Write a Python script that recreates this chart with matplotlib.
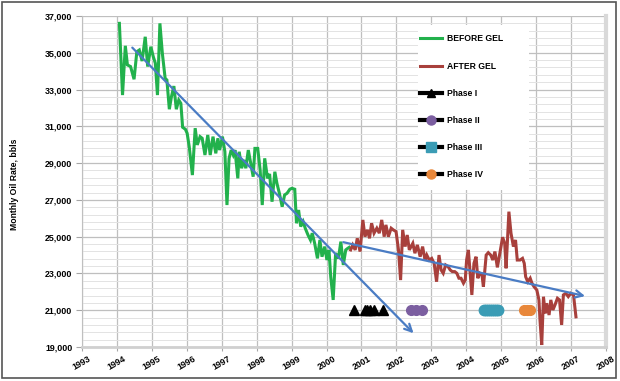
import matplotlib; matplotlib.use("Agg")
import matplotlib.pyplot as plt
from matplotlib.lines import Line2D
from matplotlib.patches import Rectangle
from matplotlib.ticker import FuncFormatter, FixedLocator

plt.rcParams["font.family"] = ["Liberation Sans", "DejaVu Sans"]

# ---- data (decimal year, bbls/month) ----
before_t = [1994.07, 1994.16, 1994.24, 1994.30, 1994.39, 1994.49, 1994.57, 1994.64, 1994.72, 1994.81,
            1994.88, 1994.97, 1995.04, 1995.10, 1995.16, 1995.23, 1995.30, 1995.38, 1995.43, 1995.50,
            1995.56, 1995.63, 1995.70, 1995.77, 1995.83, 1995.88, 1995.96, 1996.01, 1996.07, 1996.16,
            1996.24, 1996.30, 1996.38, 1996.44, 1996.52, 1996.60, 1996.67, 1996.75, 1996.83, 1996.89,
            1996.94, 1997.02, 1997.09, 1997.15, 1997.21, 1997.27, 1997.33, 1997.38, 1997.46, 1997.50,
            1997.57, 1997.63, 1997.69, 1997.76, 1997.83, 1997.90, 1997.95, 1998.03, 1998.10, 1998.16,
            1998.23, 1998.31, 1998.37, 1998.44, 1998.52, 1998.58, 1998.65, 1998.73, 1998.80, 1998.87,
            1998.95, 1999.01, 1999.09, 1999.14, 1999.20, 1999.26, 1999.33, 1999.39, 1999.47, 1999.54,
            1999.59, 1999.66, 1999.74, 1999.81, 1999.87, 1999.95, 2000.01, 2000.07, 2000.12, 2000.19,
            2000.26, 2000.34, 2000.41, 2000.48, 2000.55, 2000.61, 2000.65]
before_v = [36600, 32700, 35380, 34340, 34250, 33560, 35060, 35150, 34550, 35870,
            34250, 35330, 34790, 34430, 32700, 36600, 34970, 33610, 33520, 31930,
            32610, 33190, 31930, 32430, 32250, 30950, 30840, 30620, 29890, 28350,
            30900, 29990, 30440, 30350, 29440, 30530, 29440, 30440, 29530, 30350,
            29710, 30440, 29620, 26720, 29260, 29710, 29440, 29710, 28170, 29620,
            28720, 29170, 28720, 29710, 28990, 28260, 29800, 29800, 28620, 26720,
            29260, 28170, 28410, 26900, 28530, 27900, 27360, 26630, 27270, 27360,
            27580, 27630, 27580, 25730, 26450, 25550, 25820, 25460, 25090, 24820,
            25190, 24640, 23820, 24820, 23910, 24460, 23730, 24280, 22820, 21560,
            24100, 23820, 24730, 23460, 24280, 24370, 24420]

after_t = [2000.69, 2000.75, 2000.82, 2000.88, 2000.96, 2001.04, 2001.10, 2001.17, 2001.23, 2001.29,
           2001.36, 2001.44, 2001.51, 2001.58, 2001.65, 2001.70, 2001.77, 2001.85, 2001.91, 2001.99,
           2002.06, 2002.12, 2002.18, 2002.25, 2002.31, 2002.37, 2002.47, 2002.53, 2002.60, 2002.68,
           2002.75, 2002.82, 2002.87, 2002.94, 2003.01, 2003.08, 2003.15, 2003.22, 2003.28, 2003.34,
           2003.41, 2003.48, 2003.54, 2003.60, 2003.67, 2003.73, 2003.79, 2003.85, 2003.92, 2003.97,
           2004.01, 2004.06, 2004.16, 2004.22, 2004.28, 2004.33, 2004.39, 2004.45, 2004.49, 2004.57,
           2004.63, 2004.70, 2004.76, 2004.82, 2004.89, 2004.97, 2005.04, 2005.10, 2005.14, 2005.18,
           2005.22, 2005.28, 2005.35, 2005.41, 2005.46, 2005.54, 2005.61, 2005.66, 2005.70, 2005.76,
           2005.83, 2005.88, 2005.94, 2006.02, 2006.08, 2006.11, 2006.16, 2006.21, 2006.26, 2006.30,
           2006.37, 2006.42, 2006.48, 2006.54, 2006.61, 2006.67, 2006.73, 2006.78, 2006.85, 2006.92,
           2006.99, 2007.07, 2007.14]
after_v = [24280, 24550, 24280, 24910, 24190, 25910, 25000, 25370, 24910, 25730,
           25190, 25460, 25190, 25910, 25000, 25640, 25000, 25460, 25370, 25280,
           24280, 22640, 25370, 24460, 25090, 24280, 24640, 24100, 24550, 23910,
           24460, 23730, 24000, 23730, 23820, 23550, 22550, 24000, 23190, 23010,
           23460, 23370, 23190, 23100, 23100, 23010, 22740, 22740, 22470, 22640,
           23730, 24280, 21830, 23550, 23910, 22740, 23010, 22920, 22280, 24000,
           24130, 24000, 23730, 24190, 23330, 24190, 24970, 24640, 23280, 24820,
           26360, 25190, 24460, 24820, 23730, 23730, 23820, 23550, 22820, 22550,
           22740, 22470, 22280, 22100, 21560, 20470, 19110, 21730, 20830, 21380,
           20740, 21560, 21010, 21290, 21650, 21560, 20200, 21830, 21920, 21740,
           21920, 21830, 20640]

# trend arrows (start, end)
trend_before_t = [1994.44, 2002.49]
trend_before_v = [35280, 19750]
trend_after_t = [2000.48, 2007.40]
trend_after_v = [24700, 21770]

# gel treatment phases, plotted at 21,000
phase_level = 21000
phase1_t = [2000.80, 2001.09, 2001.17, 2001.25, 2001.35, 2001.63]
phase2_t = [2002.42, 2002.56, 2002.72]
phase3_t = [2004.50, 2004.56, 2004.62, 2004.68, 2004.74, 2004.80, 2004.86, 2004.92]
phase4_t = [2005.66, 2005.74, 2005.82]

years = list(range(1993, 2009))
y_major = list(range(19000, 37001, 2000))
y_minor = list(range(19000, 37001, 400))

GREEN = "#22B14C"; RED = "#A8403C"; BLUE = "#4A7CC4"
PURPLE = "#7B5EA0"; TEAL = "#3B9CB5"; ORANGE = "#E8873A"

fig = plt.figure(figsize=(6.2, 3.81), dpi=100)
ax = fig.add_axes([82/620, 34/381, 524/620, 331/381])

ax.plot(before_t, before_v, color=GREEN, lw=2.2, zorder=3, solid_joinstyle="miter")
ax.plot(after_t, after_v, color=RED, lw=2.2, zorder=3, solid_joinstyle="miter")

for tt, vv in [(trend_before_t, trend_before_v), (trend_after_t, trend_after_v)]:
    ax.annotate("", xy=(tt[1], vv[1]), xytext=(tt[0], vv[0]),
                arrowprops=dict(arrowstyle="->", color=BLUE, lw=1.6, mutation_scale=13,
                                shrinkA=0, shrinkB=0), zorder=4)

ax.plot(phase1_t, [phase_level]*len(phase1_t), ls="none", marker="^", ms=7, color="black", zorder=5)
ax.plot(phase2_t, [phase_level]*len(phase2_t), ls="none", marker="o", ms=7, color=PURPLE, zorder=5)
ax.plot(phase3_t, [phase_level]*len(phase3_t), ls="none", marker="o", ms=7.5, color=TEAL, zorder=5)
ax.plot(phase4_t, [phase_level]*len(phase4_t), ls="none", marker="o", ms=7, color=ORANGE, zorder=5)

ax.set_xlim(1993, 2008)
ax.set_ylim(19000, 37000)
ax.set_xticks(years)
ax.set_xticklabels([str(y) for y in years], rotation=30, ha="center", fontsize=6.3, fontweight="bold")
ax.yaxis.set_major_locator(FixedLocator(y_major))
ax.yaxis.set_minor_locator(FixedLocator(y_minor))
ax.yaxis.set_major_formatter(FuncFormatter(lambda v, p: f"{int(v):,}"))
for lab in ax.get_yticklabels():
    lab.set_fontweight("bold")
ax.tick_params(axis="y", labelsize=6.4, length=4, color="#A6A6A6", pad=3)
ax.tick_params(axis="y", which="minor", length=0)
ax.tick_params(axis="x", length=3, color="#A6A6A6", pad=2)

ax.grid(which="major", axis="both", color="#BFBFBF", lw=0.9, zorder=0)
ax.grid(which="minor", axis="y", color="#E3E3E3", lw=0.7, zorder=0)
ax.set_axisbelow(True)
ax.spines["top"].set_visible(False)
ax.spines["left"].set_color("#BFBFBF")
ax.spines["bottom"].set_color("#D0D0D0"); ax.spines["bottom"].set_linewidth(2)
ax.spines["right"].set_color("#D9D9D9"); ax.spines["right"].set_linewidth(3)

fig.text(15/620, 0.515, "Monthly Oil Rate, bbls", rotation=90, ha="center", va="center",
         fontsize=6.2, fontweight="bold")

# white legend panel (wider than the legend itself, as in the original)
ax.add_patch(Rectangle((0.641, 0.474), 0.212, 0.499, transform=ax.transAxes,
                       facecolor="white", edgecolor="none", zorder=2))

handles = [
    Line2D([], [], color=GREEN, lw=2.2),
    Line2D([], [], color=RED, lw=2.2),
    Line2D([], [], color="black", lw=3, marker="^", ms=6, mfc="black", mec="black"),
    Line2D([], [], color="black", lw=3, marker="o", ms=6.5, mfc=PURPLE, mec=PURPLE),
    Line2D([], [], color="black", lw=3, marker="s", ms=7, mfc=TEAL, mec=TEAL),
    Line2D([], [], color="black", lw=3, marker="o", ms=6.5, mfc=ORANGE, mec=ORANGE),
]
labels = ["BEFORE GEL", "AFTER GEL", "Phase I", "Phase II", "Phase III", "Phase IV"]
leg = ax.legend(handles, labels, loc="upper left", bbox_to_anchor=(0.641, 0.952),
                frameon=False, prop={"size": 6.2, "weight": "bold"}, labelspacing=2.1,
                handlelength=2.5, handletextpad=0.55, borderpad=0.3, borderaxespad=0)
leg.set_zorder(6)

fig.patches.append(Rectangle((1.5/620, 3/381), 614/620, 376/381, transform=fig.transFigure,
                             fill=False, edgecolor="#555555", lw=1.2))

fig.savefig("out.png", dpi=100)
